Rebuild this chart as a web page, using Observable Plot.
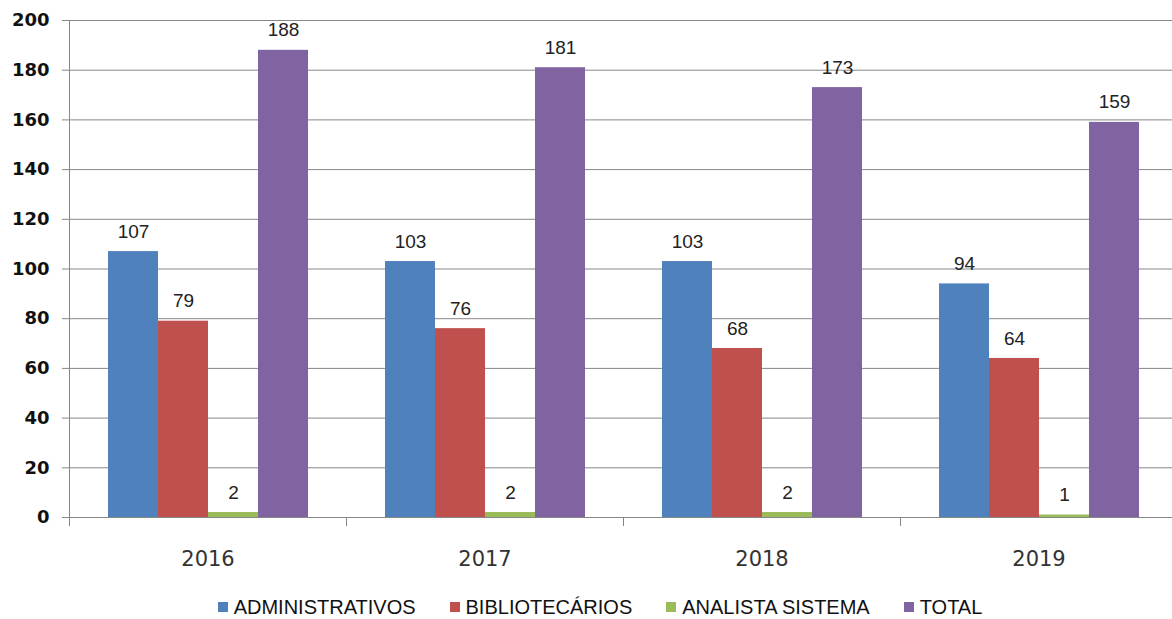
<!DOCTYPE html>
<html>
<head>
<meta charset="utf-8">
<script src="https://cdn.jsdelivr.net/npm/d3@7"></script>
<script src="https://cdn.jsdelivr.net/npm/@observablehq/plot@0.6"></script>
<style>
  html, body { margin: 0; padding: 0; background: #fff; }
  #chart { width: 1172px; }
  .legend { display: flex; justify-content: center; align-items: center; height: 24px; margin-top: 10px;
    width: 1144px; padding-left: 28px;
    font-family: "Liberation Sans", Arial, sans-serif; font-size: 20px; color: #111; }
  .legend .item { display: flex; align-items: center; margin: 0 17px; }
  .legend .sw { width: 10px; height: 10px; margin-right: 6px; }
</style>
</head>
<body>
<div id="chart"></div>
<script>
const years = ["2016", "2017", "2018", "2019"];
const series = ["ADMINISTRATIVOS", "BIBLIOTECÁRIOS", "ANALISTA SISTEMA", "TOTAL"];
const colors = ["#4F81BD", "#C0504D", "#9BBB59", "#8064A2"];
const administrativos = [107, 103, 103, 94];
const bibliotecarios = [79, 76, 68, 64];
const analista = [2, 2, 2, 1];
const total = [188, 181, 173, 159];
const yTicks = [0, 20, 40, 60, 80, 100, 120, 140, 160, 180, 200];

const values = [administrativos, bibliotecarios, analista, total];
const data = [];
years.forEach((yr, i) => series.forEach((s, j) => data.push({year: yr, series: s, value: values[j][i]})));

const plot = Plot.plot({
  width: 1172,
  height: 585,
  marginLeft: 68,
  marginRight: -5,
  marginTop: 20,
  marginBottom: 68,
  style: {background: "#fff", overflow: "visible"},
  fx: {domain: years, padding: 0, label: null},
  x: {domain: series, paddingInner: 0, paddingOuter: 0.745, axis: null},
  y: {domain: [0, 200], ticks: yTicks, label: null},
  color: {domain: series, range: colors},
  marks: [
    Plot.gridY(yTicks, {stroke: "#878787", strokeOpacity: 1, strokeWidth: 1}),
    Plot.barY(data, {fx: "year", x: "series", y: "value", fill: "series"}),
    Plot.text(data, {fx: "year", x: "series", y: "value", text: d => String(d.value), dy: -20,
      lineAnchor: "middle", fontSize: 19, fontFamily: "Liberation Sans, Arial, sans-serif", fill: "#222"}),
    Plot.frame({anchor: "left", facetAnchor: "left", stroke: "#878787"}),
    Plot.axisY(yTicks, {tickSize: 7, tickPadding: 13, fontSize: 18, fontWeight: "bold",
      fontFamily: "DejaVu Sans, Verdana, sans-serif", fill: "#111", stroke: "#878787", label: null, facetAnchor: "left"}),
    Plot.axisFx({anchor: "bottom", tickSize: 0, tickPadding: 34, fontSize: 21,
      fontFamily: "DejaVu Sans, Verdana, sans-serif", fill: "#333", label: null})
  ]
});

document.getElementById("chart").appendChild(plot);

// x-axis boundary ticks at each facet edge, from the fx scale
const fx = plot.scale("fx");
const yS = plot.scale("y");
const y0 = yS.apply(0);
const edges = years.map(yr => fx.apply(yr));
edges.push(edges[edges.length - 1] + fx.bandwidth);
const svg = d3.select(plot);
svg.append("g").selectAll("line").data(edges).join("line")
  .attr("x1", d => d).attr("x2", d => d)
  .attr("y1", y0).attr("y2", y0 + 9)
  .attr("stroke", "#878787").attr("shape-rendering", "crispEdges");

// legend
const legend = d3.select("body").append("div").attr("class", "legend");
series.forEach((s, i) => {
  const it = legend.append("div").attr("class", "item");
  it.append("div").attr("class", "sw").style("background", colors[i]);
  it.append("span").text(s);
});
</script>
</body>
</html>
